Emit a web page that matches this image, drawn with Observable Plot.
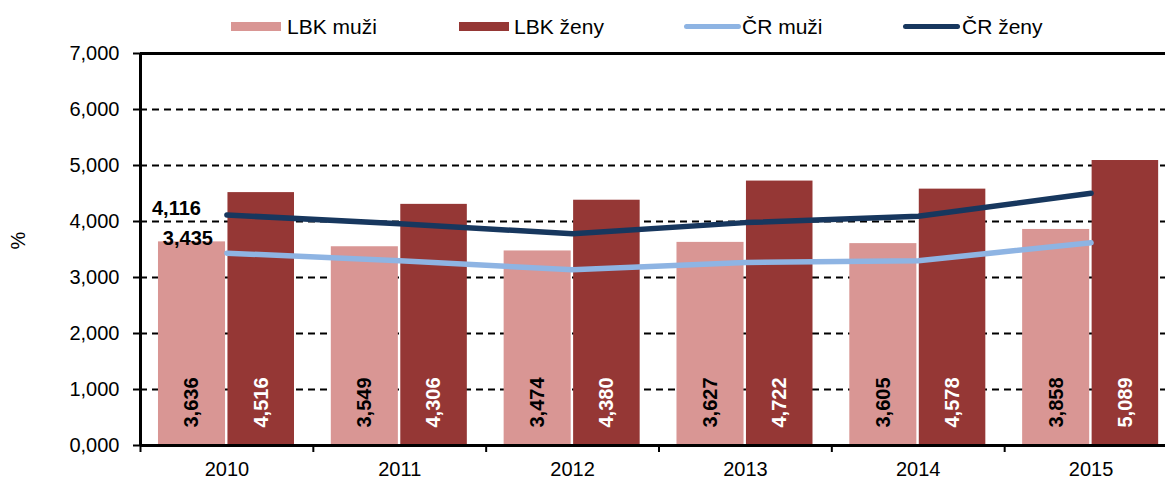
<!DOCTYPE html>
<html>
<head>
<meta charset="utf-8">
<script src="https://cdn.jsdelivr.net/npm/d3@7"></script>
<script src="https://cdn.jsdelivr.net/npm/@observablehq/plot@0.6"></script>
<style>
  html, body { margin: 0; padding: 0; background: #fff; overflow: hidden; }
  #wrap { position: relative; width: 1165px; height: 480px; overflow: hidden; font-family: "Liberation Sans", Arial, sans-serif; }
  #legend { position: absolute; left: 0; top: 0; width: 1165px; height: 45px; z-index: 2; }
  #legend .sw { position: absolute; }
  #legend .lt { position: absolute; top: 15px; font-size: 21px; line-height: 24px; white-space: nowrap; color: #000; }
  #chart { position: absolute; left: 0; top: 0; }
</style>
</head>
<body>
<div id="wrap">
  <div id="chart"></div>
  <div id="legend"></div>
</div>
<script>
// ---- data ----
const years = [2010, 2011, 2012, 2013, 2014, 2015];
const lbkMuzi = [3.636, 3.549, 3.474, 3.627, 3.605, 3.858];
const lbkZeny = [4.516, 4.306, 4.380, 4.722, 4.578, 5.089];
const crMuzi  = [3.435, 3.30, 3.137, 3.27, 3.30, 3.62];
const crZeny  = [4.116, 3.96, 3.78, 3.98, 4.095, 4.505];
const yTicks = [0, 1, 2, 3, 4, 5, 6, 7];
const seriesNames = ["LBK muži", "LBK ženy", "ČR muži", "ČR ženy"];
const colors = ["#D99694", "#953735", "#8EB4E3", "#17375E"];

const fmt = v => v.toFixed(3).replace(".", ",");

// ---- legend ----
const legend = document.getElementById("legend");
const legendItems = [
  {sw: {left: 231, top: 22, width: 50, height: 9, radius: 0}, text: 287},
  {sw: {left: 459, top: 22, width: 50, height: 9, radius: 0}, text: 514},
  {sw: {left: 684, top: 24, width: 57, height: 5, radius: 3}, text: 742},
  {sw: {left: 903, top: 24, width: 57, height: 5, radius: 3}, text: 962}
];
legendItems.forEach((it, i) => {
  const s = document.createElement("div");
  s.className = "sw";
  Object.assign(s.style, {left: it.sw.left + "px", top: it.sw.top + "px", width: it.sw.width + "px",
    height: it.sw.height + "px", background: colors[i], borderRadius: it.sw.radius + "px"});
  legend.appendChild(s);
  const t = document.createElement("div");
  t.className = "lt";
  t.style.left = it.text + "px";
  t.textContent = seriesNames[i];
  legend.appendChild(t);
});

// ---- tables ----
const bars = years.flatMap((y, i) => [
  {year: y, s: 0, v: lbkMuzi[i]},
  {year: y, s: 1, v: lbkZeny[i]}
]);
const lines = years.flatMap((y, i) => [
  {year: y, s: 2, v: crMuzi[i]},
  {year: y, s: 3, v: crZeny[i]}
]);
const boundaries = years.map(y => y - 0.5).concat([years[years.length - 1] + 0.5]);
const gridVals = yTicks.filter(t => t > 0 && t < 7);

const x1 = d => d.s === 0 ? d.year - 0.396 : d.year + 0.006;
const x2 = d => d.s === 0 ? d.year - 0.008 : d.year + 0.391;

const chart = Plot.plot({
  width: 1165,
  height: 480,
  marginTop: 53,
  marginBottom: 35,
  marginLeft: 140,
  marginRight: -12,
  style: {fontFamily: "Liberation Sans, Arial, sans-serif", fontSize: "20px", background: "transparent"},
  x: {type: "linear", domain: [boundaries[0], boundaries[boundaries.length - 1]], axis: null},
  y: {domain: [0, 7], axis: null},
  marks: [
    Plot.ruleY(gridVals, {stroke: "#000", strokeWidth: 2, strokeDasharray: "7,5"}),
    Plot.rectY(bars, {x1, x2, y1: 0, y2: "v", fill: d => colors[d.s]}),
    Plot.text(bars, {
      x: d => (x1(d) + x2(d)) / 2, y: 0, text: d => fmt(d.v),
      rotate: -90, textAnchor: "start", dy: -18,
      fill: d => d.s === 0 ? "#000" : "#fff", fontWeight: "bold", fontSize: 20
    }),
    Plot.line(lines, {x: "year", y: "v", z: "s", stroke: d => colors[d.s], strokeWidth: 5.5, strokeLinecap: "round", strokeLinejoin: "round"}),
    Plot.text(lines.filter(d => d.year === years[0] && d.s === 3), {
      x: "year", y: "v", text: d => fmt(d.v), textAnchor: "end", dx: -26, dy: -6,
      fontWeight: "bold", fontSize: 20, fill: "#000"
    }),
    Plot.text(lines.filter(d => d.year === years[0] && d.s === 2), {
      x: "year", y: "v", text: d => fmt(d.v), textAnchor: "end", dx: -14, dy: -15,
      fontWeight: "bold", fontSize: 20, fill: "#000"
    }),
    Plot.axisY({ticks: yTicks, tickFormat: fmt, tickSize: 7, tickPadding: 14, strokeWidth: 2, fontSize: 20, label: null}),
    Plot.axisX({ticks: boundaries, tickSize: 7, tickFormat: () => "", strokeWidth: 2, label: null}),
    Plot.axisX({ticks: years, tickSize: 0, tickPadding: 16, tickFormat: d => String(d), fontSize: 20, label: null}),
    Plot.ruleX([boundaries[0]], {stroke: "#000", strokeWidth: 3}),
    Plot.ruleY([0, 7], {stroke: "#000", strokeWidth: 3}),
    Plot.text(["%"], {frameAnchor: "left", dx: -122, rotate: -90, fontSize: 20, fill: "#000"})
  ]
});
document.getElementById("chart").appendChild(chart);
</script>
</body>
</html>
